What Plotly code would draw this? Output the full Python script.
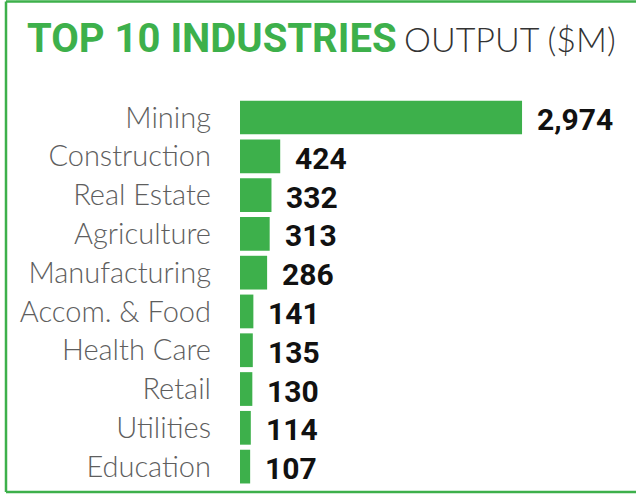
import plotly.graph_objects as go

categories = ["Mining", "Construction", "Real Estate", "Agriculture", "Manufacturing",
              "Accom. & Food", "Health Care", "Retail", "Utilities", "Education"]
values = [2974, 424, 332, 313, 286, 141, 135, 130, 114, 107]
value_labels = ["2,974", "424", "332", "313", "286", "141", "135", "130", "114", "107"]

GREEN = "#3db04b"
W, H = 636, 494
L, R, T, B = 240, 16, 95.5, 8

fig = go.Figure()
fig.add_trace(go.Bar(
    x=values, y=categories, orientation="h",
    marker=dict(color=GREEN, line=dict(width=0)),
    hoverinfo="skip",
))

for c, v, lab in zip(categories, values, value_labels):
    fig.add_annotation(x=v, y=c, xref="x", yref="y", text="<b>" + lab + "</b>",
                       showarrow=False, xanchor="left", yanchor="middle",
                       xshift=13, yshift=-2,
                       font=dict(family="Roboto", size=30, color="#111111"))

pw = W - L - R
ph = H - T - B
# title
fig.add_annotation(xref="paper", yref="paper", x=(25 - L) / pw, y=1 + (T - 38) / ph,
                   xanchor="left", yanchor="middle", showarrow=False,
                   text="<b>TOP 10 INDUSTRIES</b>",
                   font=dict(family="Roboto", size=40, color=GREEN))
fig.add_annotation(xref="paper", yref="paper", x=(402 - L) / pw, y=1 + (T - 38) / ph,
                   xanchor="left", yanchor="middle", showarrow=False,
                   text="OUTPUT ($M)",
                   font=dict(family="Lato", size=34, color="#333333", weight=300))

# border
yb = -(492 - (H - B)) / ph
yt = 1 + (T - 1) / ph
xl = (6 - L) / pw
xr = (W - L) / pw
fig.add_shape(type="line", xref="paper", yref="paper", x0=xl, x1=xl, y0=yb, y1=yt,
              line=dict(color=GREEN, width=2.5))
fig.add_shape(type="line", xref="paper", yref="paper", x0=xl, x1=xr, y0=yt, y1=yt,
              line=dict(color=GREEN, width=2.5))
fig.add_shape(type="line", xref="paper", yref="paper", x0=xl, x1=xr, y0=yb, y1=yb,
              line=dict(color=GREEN, width=2.5))

fig.update_layout(
    width=W, height=H,
    margin=dict(l=L, r=R, t=T, b=B, autoexpand=False),
    paper_bgcolor="white", plot_bgcolor="white",
    showlegend=False, bargap=0.13,
    xaxis=dict(range=[0, 4007], visible=False, fixedrange=True),
    yaxis=dict(autorange="reversed", categoryorder="array", categoryarray=categories,
               showgrid=False, zeroline=False, showline=False, ticks="",
               ticklabelstandoff=28, fixedrange=True,
               tickfont=dict(family="Lato", size=29, color="#5e5e5e", weight=300)),
)

fig.write_html("out.html", config={"displayModeBar": False},
               post_script="document.body.style.margin='0';document.body.style.padding='0';")
